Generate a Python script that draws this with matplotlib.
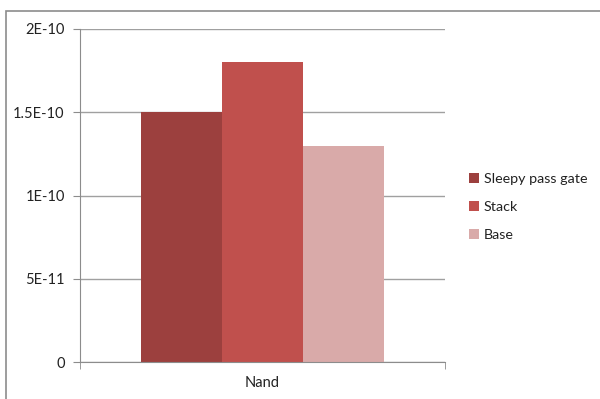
import matplotlib.pyplot as plt
from matplotlib.patches import Rectangle
import numpy as np

plt.rcParams['font.family'] = ['Lato', 'DejaVu Sans']

category = ['Nand']
series = ['Sleepy pass gate', 'Stack', 'Base']
values = [1.5e-10, 1.8e-10, 1.3e-10]
colors = ['#9C403E', '#C0504D', '#D9AAA9']
yticks = [0, 5e-11, 1e-10, 1.5e-10, 2e-10]
ytick_labels = ['0', '5E-11', '1E-10', '1.5E-10', '2E-10']

W, H = 600, 399
fig = plt.figure(figsize=(W / 100, H / 100), dpi=100)

# outer chart frame (right and bottom edges fall outside the image)
fig.add_artist(Rectangle((6 / W, -10 / H), 620 / W, (H - 11 + 10) / H,
                         transform=fig.transFigure, fill=False,
                         edgecolor='#8C8C8C', linewidth=1.2))

ax = fig.add_axes([80 / W, (H - 362) / H, 365 / W, 333 / H])

width = 243 / 365 / 3
x0 = 0.5 - 1.5 * width
for i, (name, v, c) in enumerate(zip(series, values, colors)):
    ax.bar(x0 + (i + 0.5) * width, v, width, color=c, label=name, zorder=3)

fs = 10.5
ax.set_xlim(0, 1)
ax.set_ylim(0, 2e-10)
ax.set_yticks(yticks)
ax.set_yticklabels(ytick_labels, fontsize=fs, color='#222222')
ax.set_xticks([0.5])
ax.set_xticklabels(category, fontsize=fs, color='#222222')
ax.tick_params(axis='x', length=0, pad=10)
ax.tick_params(axis='y', length=5, color='#8C8C8C', pad=6)
ax.set_xticks([0, 1], minor=True)
ax.tick_params(axis='x', which='minor', length=5, color='#8C8C8C')

ax.grid(True, axis='y', color='#A0A0A0', linewidth=1.0, zorder=0)
for s in ['top', 'right']:
    ax.spines[s].set_visible(False)
for s in ['left', 'bottom']:
    ax.spines[s].set_color('#8C8C8C')
    ax.spines[s].set_zorder(4)

leg = ax.legend(loc='center left', bbox_to_anchor=((469 - 80) / 365, (362 - 207) / 333),
                frameon=False, fontsize=10.3, handlelength=0.7, handleheight=0.7,
                handletextpad=0.35, labelspacing=1.15, borderpad=0, borderaxespad=0)
for t in leg.get_texts():
    t.set_color('#222222')

fig.savefig('out.png', dpi=100)
